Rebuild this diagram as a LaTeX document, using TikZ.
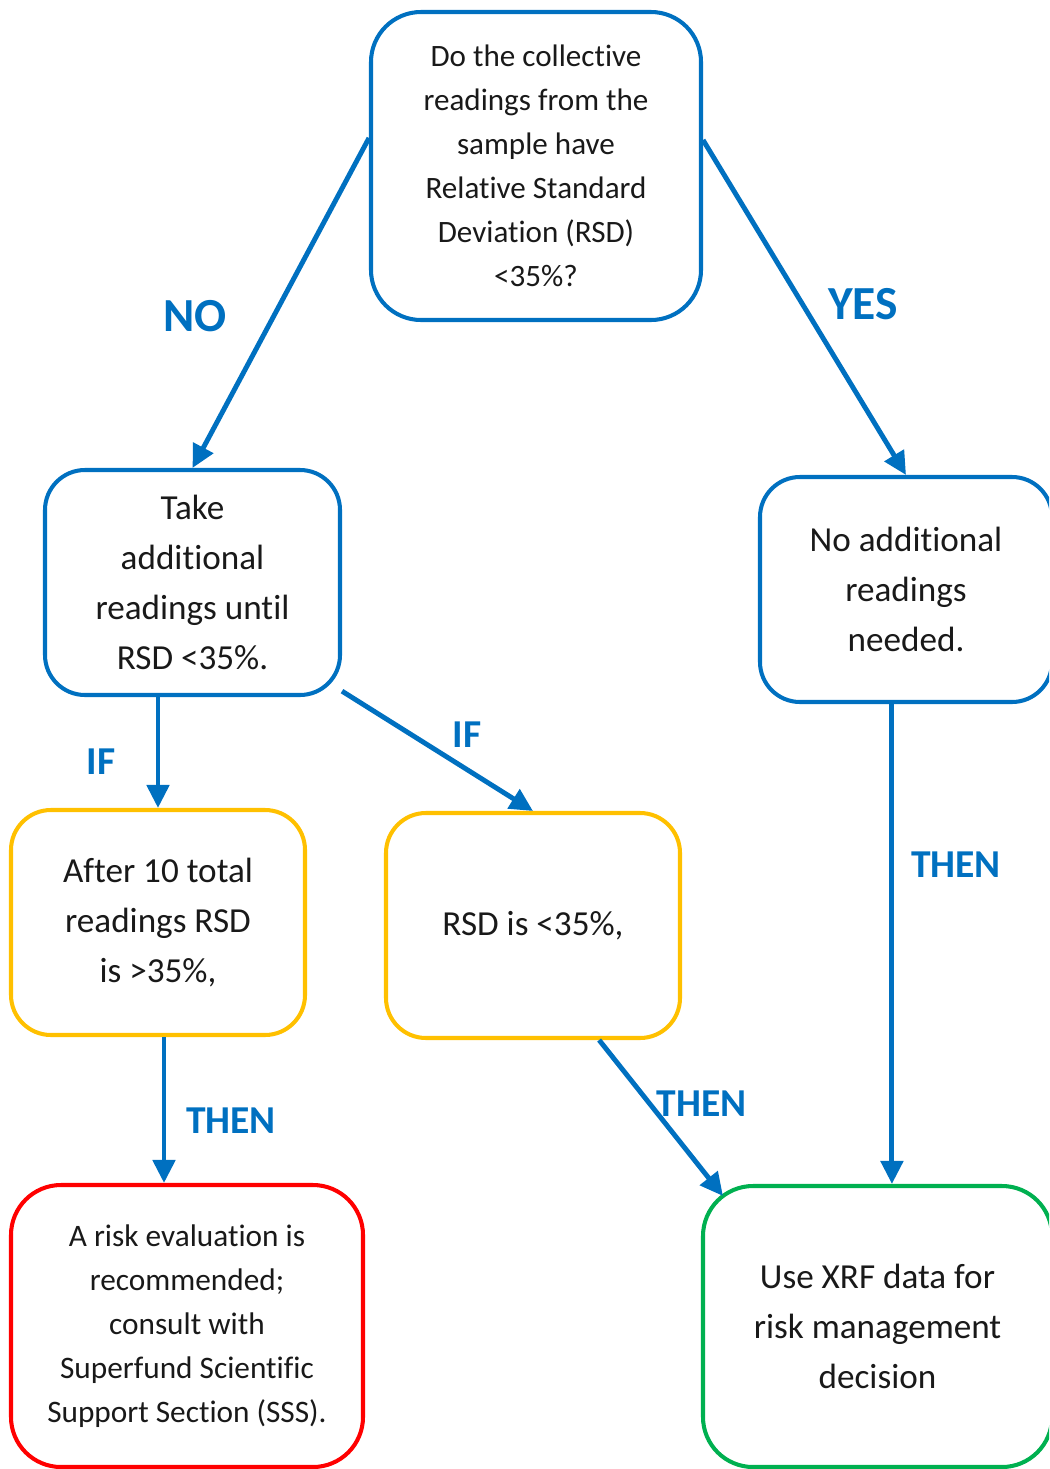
\documentclass[tikz,border=0pt]{standalone}
\usepackage{fontspec}
\setmainfont[Ligatures={NoCommon,NoRequired,NoContextual}, RawFeature={-calt}]{Carlito}
\usetikzlibrary{shapes,arrows.meta,positioning}

\definecolor{flowblue}{RGB}{0,112,192}
\definecolor{flowyellow}{RGB}{255,192,0}
\definecolor{flowred}{RGB}{255,0,0}
\definecolor{flowgreen}{RGB}{0,176,80}

\begin{document}
\begin{tikzpicture}[
  box/.style={rectangle, draw=#1, line width=2.3pt, rounded corners=0.8cm, align=center, inner sep=0pt, text=black!90},
  link/.style={draw=flowblue, line width=2.8pt, -{Triangle[length=0.46cm,width=0.44cm]}},
  tag/.style={text=flowblue, font=\bfseries\fontsize{22.5}{27}\selectfont},
  bigtag/.style={text=flowblue, font=\bfseries\fontsize{27}{32}\selectfont},
]
\clip (0,0) rectangle (20.98,-29.38);

\node (question) [box=flowblue, rounded corners=1cm, minimum width=6.6cm, minimum height=6.16cm, font=\fontsize{17.7}{25}\selectfont] at (10.72,-3.32) {Do the collective\\readings from the\\sample have\\Relative Standard\\Deviation (RSD)\\<35\%?};
\node (take) [box=flowblue, minimum width=5.9cm, minimum height=4.5cm, font=\fontsize{20}{28.5}\selectfont] at (3.85,-11.65) {Take\\additional\\readings until\\RSD <35\%.};
\node (noadd) [box=flowblue, minimum width=5.84cm, minimum height=4.5cm, font=\fontsize{20}{28.5}\selectfont] at (18.12,-11.79) {No additional\\readings\\needed.};
\node (after10) [box=flowyellow, minimum width=5.88cm, minimum height=4.5cm, font=\fontsize{20}{28.5}\selectfont] at (3.16,-18.45) {After 10 total\\readings RSD\\is >35\%,};
\node (rsdok) [box=flowyellow, minimum width=5.88cm, minimum height=4.5cm, font=\fontsize{20}{28.5}\selectfont] at (10.66,-18.51) {RSD is <35\%,};
\node (risk) [box=flowred, rounded corners=1cm, minimum width=7.04cm, minimum height=5.64cm, font=\fontsize{17.8}{25}\selectfont] at (3.74,-26.52) {A risk evaluation is\\recommended;\\consult with\\Superfund Scientific\\Support Section (SSS).};
\node (usexrf) [box=flowgreen, rounded corners=1cm, minimum width=6.98cm, minimum height=5.62cm, font=\fontsize{20}{28.5}\selectfont] at (17.55,-26.53) {Use XRF data for\\risk management\\decision};

\draw [link] ([yshift=0.56cm]question.west) -- node[bigtag, xshift=-1.715cm, yshift=-0.26cm] {NO} (take.north);
\draw [link] ([yshift=0.52cm]question.east) -- node[bigtag, xshift=1.17cm, yshift=0.07cm] {YES} (noadd.north);
\draw [link] (after10.north |- take.south) -- node[tag, xshift=-1.14cm, yshift=-0.19cm] {IF} (after10.north);
\draw [link] (take.-36) -- node[tag, xshift=0.59cm, yshift=0.32cm] {IF} (rsdok.north);
\draw [link] (after10.-87) -- node[tag, xshift=1.34cm, yshift=-0.22cm] {THEN} (after10.-87 |- risk.north);
\draw [link] (rsdok.-60) -- node[tag, xshift=0.81cm, yshift=0.28cm] {THEN} ([shift={(0.44cm,-0.24cm)}]usexrf.north west);
\draw [link] (noadd.-97) -- node[tag, pos=0.335, xshift=1.28cm] {THEN} (noadd.-97 |- usexrf.north);
\end{tikzpicture}
\end{document}
